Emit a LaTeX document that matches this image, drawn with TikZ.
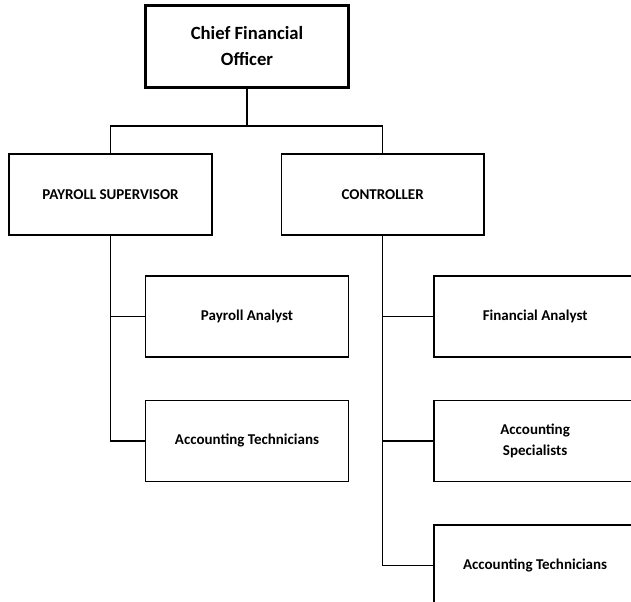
\documentclass[tikz,border=0pt]{standalone}
\usepackage{fontspec}
\setmainfont{Carlito}
\usepackage{tikz}
\usetikzlibrary{positioning}

\begin{document}
\begin{tikzpicture}[x=0.75pt, y=-0.75pt,
                box/.style={rectangle, draw=black, line width=1.1pt, fill=white, minimum width=152pt, minimum height=60.75pt, align=center, font=\fontsize{11.25}{16}\selectfont\bfseries},
                topbox/.style={box, line width=2.3pt, minimum height=62pt, font=\fontsize{14}{19.5}\selectfont\bfseries},
                link/.style={line width=1.1pt},
            ]
            \clip (0,0) rectangle (631,602);
            %Nodes
            \node[topbox]       (cfo)        at (247,46.5)                 {Chief Financial\\Officer};
            \node[box]          (paysup)     at (110.5,194.5)              {PAYROLL SUPERVISOR};
            \node[box]          (controller) [right=51pt of paysup]        {CONTROLLER};
            \node[box]          (payanalyst) at (247,316.5)                {Payroll Analyst};
            \node[box]          (acctechl)   [below=31.5pt of payanalyst]  {Accounting Technicians};
            \node[box]          (finanalyst) [right=63pt of payanalyst]    {Financial Analyst};
            \node[box]          (accspec)    [below=31.5pt of finanalyst]  {Accounting\\Specialists};
            \node[box]          (acctechr)   [below=31.5pt of accspec]     {Accounting Technicians};
            \coordinate         (bus)        at (247,126);

            %Lines
            \draw[link] (cfo.south) -- (bus);
            \draw[link] (paysup.north) |- (bus) -| (controller.north);
            \draw[link] (paysup.south) |- (acctechl.west);
            \draw[link] (paysup.south |- payanalyst.west) -- (payanalyst.west);
            \draw[link] (controller.south) |- (acctechr.west);
            \draw[link] (controller.south |- finanalyst.west) -- (finanalyst.west);
            \draw[link] (controller.south |- accspec.west) -- (accspec.west);
        \end{tikzpicture}
\end{document}
